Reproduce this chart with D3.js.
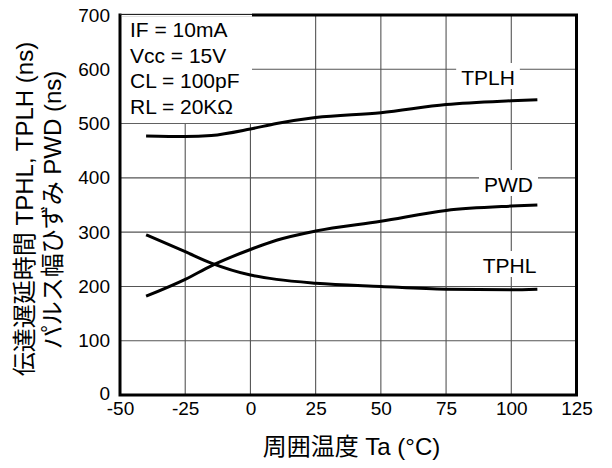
<!DOCTYPE html>
<html><head><meta charset="utf-8">
<script src="https://cdn.jsdelivr.net/npm/d3@7/dist/d3.min.js"></script>
<style>body{margin:0;background:#fff}svg{display:block}</style>
</head><body>
<svg id="c" width="612" height="468"></svg>
<script>
const temps = [-40, -25, -15, 0, 10, 25, 50, 75, 100, 110];
const tplh = [477, 476, 478, 490, 500, 511, 520, 535, 542, 544];
const pwd  = [182, 213, 238, 268, 285, 302, 320, 340, 348, 350];
const tphl = [295, 264, 243, 221, 213, 206, 200, 195, 194, 195];
const xTicks = [-50, -25, 0, 25, 50, 75, 100, 125];
const yTicks = [0, 100, 200, 300, 400, 500, 600, 700];
const conditions = ["IF = 10mA", "Vcc = 15V", "CL = 100pF", "RL = 20KΩ"];
const seriesNames = ["TPLH", "PWD", "TPHL"];
const xTitle = "周囲温度 Ta (°C)";
const yTitle1 = "伝達遅延時間 TPHL, TPLH (ns)";
const yTitle2 = "パルス幅ひずみ PWD (ns)";

const svg = d3.select("#c");
const font = "'Liberation Sans', Arial, 'Noto Sans CJK JP', sans-serif";
const x = d3.scaleLinear().domain([-50, 125]).range([120, 576.5]);
const y = d3.scaleLinear().domain([0, 700]).range([395, 15]);

// grid
const g = svg.append("g");
g.selectAll(".vx").data(xTicks.slice(1, -1)).join("line")
  .attr("x1", d => x(d)).attr("x2", d => x(d)).attr("y1", y(0)).attr("y2", y(700))
  .attr("stroke", "#555").attr("stroke-width", 1.1);
g.selectAll(".hy").data(yTicks.slice(1, -1)).join("line")
  .attr("x1", x(-50)).attr("x2", x(125)).attr("y1", d => y(d)).attr("y2", d => y(d))
  .attr("stroke", "#555").attr("stroke-width", 1.1);

// axes (tick labels)
const xAxis = d3.axisBottom(x).tickValues(xTicks).tickSize(0).tickPadding(7).tickFormat(d => String(d));
const xa = svg.append("g").attr("transform", `translate(0,${y(0)})`).call(xAxis);
xa.select(".domain").remove();
xa.selectAll("text").attr("font-family", font).attr("font-size", 19).attr("fill", "#000");
const yAxis = d3.axisLeft(y).tickValues(yTicks).tickSize(0).tickPadding(10).tickFormat(d => String(d));
const ya = svg.append("g").attr("transform", `translate(${x(-50)},0)`).call(yAxis);
ya.select(".domain").remove();
ya.selectAll("text").attr("font-family", font).attr("font-size", 19).attr("fill", "#000");
ya.selectAll(".tick").filter(d => d === 0).select("text").attr("dy", "0.22em");

// series labels with white backgrounds
const labelData = [
  {name: seriesNames[0], cx: 488, by: 85},
  {name: seriesNames[1], cx: 508.5, by: 192},
  {name: seriesNames[2], cx: 509.5, by: 273}
];
labelData.forEach(d => {
  const bg = svg.append("rect").attr("fill", "#fff");
  const t = svg.append("text").attr("x", d.cx).attr("y", d.by).attr("text-anchor", "middle")
    .attr("font-family", font).attr("font-size", 21).text(d.name);
  const b = t.node().getBBox();
  bg.attr("x", b.x - 5).attr("y", d.by - 22).attr("width", b.width + 10).attr("height", 26);
});

// lines
const line = d3.line().x((d, i) => x(temps[i])).y(d => y(d)).curve(d3.curveMonotoneX);
[tplh, pwd, tphl].forEach(s => {
  svg.append("path").attr("d", line(s)).attr("fill", "none").attr("stroke", "#000").attr("stroke-width", 3);
});

// condition box
const boxW = 132;
svg.append("rect").attr("x", x(-50)).attr("y", y(700)).attr("width", boxW).attr("height", y(500) - y(700) - 0.5)
  .attr("fill", "#fff");
conditions.forEach((t, i) => {
  svg.append("text").attr("x", 130).attr("y", 37 + i * 25.7)
    .attr("font-family", font).attr("font-size", 21).text(t);
});

// frame
svg.append("rect").attr("x", x(-50)).attr("y", y(700)).attr("width", x(125) - x(-50)).attr("height", y(0) - y(700))
  .attr("fill", "none").attr("stroke", "#000").attr("stroke-width", 3);
svg.append("line").attr("x1", x(-50) + 1.5).attr("x2", x(-50) + boxW).attr("y1", y(700)).attr("y2", y(700))
  .attr("stroke", "#fff").attr("stroke-width", 3.5);
svg.append("line").attr("x1", x(-50)).attr("x2", x(-50) + boxW).attr("y1", y(700) - 0.5).attr("y2", y(700) - 0.5)
  .attr("stroke", "#222").attr("stroke-width", 1);

// titles
svg.append("text").attr("x", 351.5).attr("y", 455).attr("text-anchor", "middle")
  .attr("font-family", font).attr("font-size", 24).text(xTitle);
svg.append("text").attr("transform", "translate(33,209) rotate(-90)").attr("text-anchor", "middle")
  .attr("font-family", font).attr("font-size", 24).text(yTitle1);
svg.append("text").attr("transform", "translate(61,210) rotate(-90)").attr("text-anchor", "middle")
  .attr("font-family", font).attr("font-size", 24).text(yTitle2);
</script>
</body></html>
